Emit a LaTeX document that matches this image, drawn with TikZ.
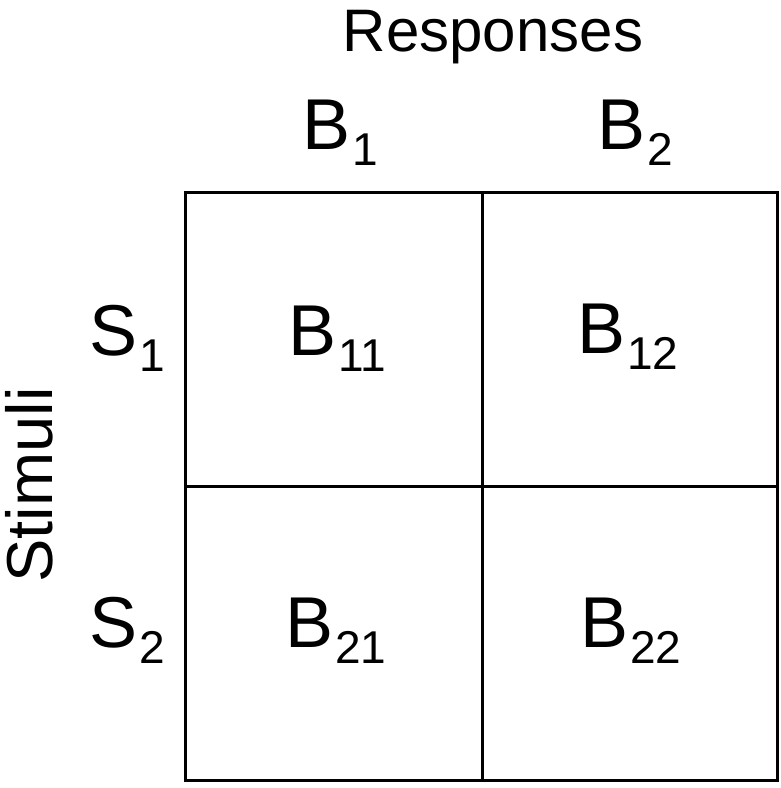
\documentclass[tikz,border=0pt]{standalone}
\usepackage{fontspec}
\setmainfont{Liberation Sans}
\newcommand{\lowsub}[1]{\kern2pt\raisebox{-16pt}{\fontsize{46}{46}\selectfont #1}}
\tikzset{
  bg/.style = {fill=white, draw=none},
  rule/.style = {draw=black, line width=3pt},
  head/.style = {font=\fontsize{60}{60}\selectfont, inner sep=0pt, anchor=base},
  cell/.style = {font=\fontsize{72}{72}\selectfont, inner sep=0pt, anchor=base west},
}
\begin{document}
\begin{tikzpicture}[x=1pt,y=-1pt]
    \fill[bg] (0,0) rectangle (781,788) ;

    \node[head] at (493,51) (resp) {Responses};
    \node[head,rotate=90,font=\fontsize{65}{65}\selectfont] at (52,485) (stim) {Stimuli};

    \node[cell] at (302,149) (b1) {B\lowsub{1}};
    \node[cell] at (597,149) (b2) {B\lowsub{2}};
    \node[cell] at (89,355) (s1) {S\lowsub{1}};
    \node[cell] at (89,647) (s2) {S\lowsub{2}};

    \node[cell] at (288,355) (b11) {B\lowsub{11}};
    \node[cell] at (577,353) (b12) {B\lowsub{12}};
    \node[cell] at (285,647) (b21) {B\lowsub{21}};
    \node[cell] at (580,647) (b22) {B\lowsub{22}};

    \draw[rule] (185,192) rectangle (777,780);
    \draw[rule] (482,192) -- (482,780);
    \draw[rule] (185,486) -- (777,486);

\end{tikzpicture}
\end{document}
